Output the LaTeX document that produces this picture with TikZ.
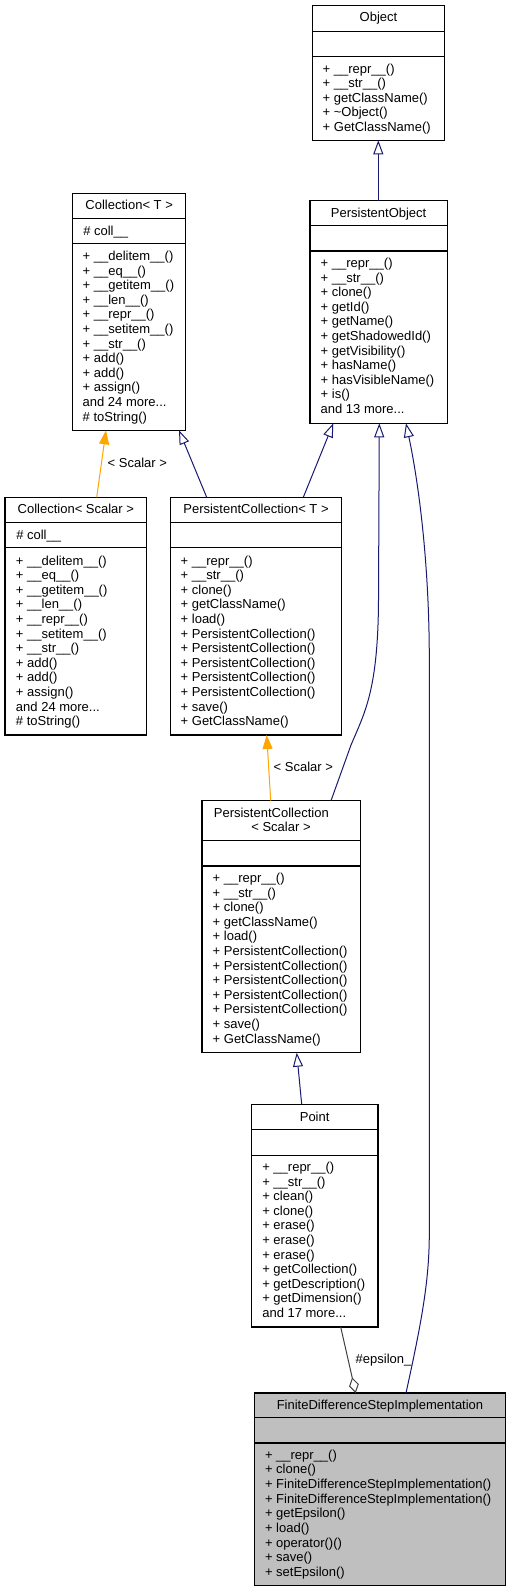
\documentclass[tikz,border=0pt]{standalone}
\usepackage{fontspec}
\setmainfont{Liberation Sans}
\usetikzlibrary{arrows.meta,calc}
\definecolor{navy}{HTML}{191970}
\definecolor{orng}{HTML}{FFA500}
\definecolor{dgray}{HTML}{404040}
\definecolor{fdgray}{HTML}{BFBFBF}
\newcommand{\tdots}{...}
\tikzset{
  clsnode/.style={draw=black, line width=1.1pt, rectangle, inner sep=0pt, outer sep=0pt},
  sepline/.style={draw=black, line width=1.1pt},
  txt/.style={inner sep=0pt, outer sep=0pt, font=\fontsize{13}{15}\selectfont},
  inh/.style={draw=navy, line width=1pt, -{Triangle[open, length=14pt, width=10pt, line width=1pt]}},
  tmpl/.style={draw=orng, line width=1pt, -{Triangle[length=14pt, width=10pt]}, orng},
  aggr/.style={draw=dgray, line width=1pt, -{Diamond[open, length=16pt, width=10pt, line width=1pt]}},
}
\newcommand{\clsbox}[8]{%
  \node[clsnode, fill=#8, minimum width={#4-#2}, minimum height={#5-#3}, anchor=north west] (#1) at (#2,#3) {};
  \draw[sepline] (#2,#6) -- (#4,#6);
  \draw[sepline] (#2,#7) -- (#4,#7);
}
\newcommand{\mlines}[5]{%
  \foreach \t [count=\i from 0] in {#5} {\node[txt, anchor=base west] (#1-\i) at (#2, {#3+\i*#4}) {\t};}
}
\begin{document}
\begin{tikzpicture}[x=1pt, y=-1pt]
\useasboundingbox (0,0) rectangle (511,1592);

% Object
\clsbox{obj}{312.7}{5.7}{444.3}{140.3}{31.3}{56.7}{white}
\node[txt, anchor=base] (obj-t) at (378.5,22) {Object};
\mlines{objm}{322.7}{73.3}{14.45}{+ \_\_repr\_\_(), + \_\_str\_\_(), + getClassName(), + \textasciitilde Object(), + GetClassName()}

% Collection< T >
\clsbox{colT}{72.7}{193.3}{185.7}{430.3}{218.7}{243.7}{white}
\node[txt, anchor=base] (colT-t) at (129.2,209.3) {Collection< T >};
\node[txt, anchor=base west] (colT-a) at (83.3,235.5) {\# coll\_\_};
\mlines{colTm}{82.7}{260.5}{14.6}{+ \_\_delitem\_\_(), + \_\_eq\_\_(), + \_\_getitem\_\_(), + \_\_len\_\_(), + \_\_repr\_\_(), + \_\_setitem\_\_(), + \_\_str\_\_(), + add(), + add(), + assign(), and 24 more\tdots, {\# toString()}}

% PersistentObject
\clsbox{po}{310}{200.7}{447.3}{423.3}{225.7}{251}{white}
\node[txt, anchor=base] (po-t) at (378.65,217.3) {PersistentObject};
\mlines{pom}{320.7}{267.5}{14.6}{+ \_\_repr\_\_(), + \_\_str\_\_(), + clone(), + getId(), + getName(), + getShadowedId(), + getVisibility(), + hasName(), + hasVisibleName(), + is(), and 13 more\tdots}

% Collection< Scalar >
\clsbox{colS}{5}{497.3}{146.7}{735}{522.3}{547.7}{white}
\node[txt, anchor=base] (colS-t) at (75.85,513.3) {Collection< Scalar >};
\node[txt, anchor=base west] (colS-a) at (16.3,539.3) {\# coll\_\_};
\mlines{colSm}{16}{565}{14.6}{+ \_\_delitem\_\_(), + \_\_eq\_\_(), + \_\_getitem\_\_(), + \_\_len\_\_(), + \_\_repr\_\_(), + \_\_setitem\_\_(), + \_\_str\_\_(), + add(), + add(), + assign(), and 24 more\tdots, {\# toString()}}

% PersistentCollection< T >
\clsbox{pcT}{170.7}{497.3}{341.3}{735}{522.3}{547.7}{white}
\node[txt, anchor=base] (pcT-t) at (256,513.3) {PersistentCollection< T >};
\mlines{pcTm}{180.7}{565}{14.6}{+ \_\_repr\_\_(), + \_\_str\_\_(), + clone(), + getClassName(), + load(), + PersistentCollection(), + PersistentCollection(), + PersistentCollection(), + PersistentCollection(), + PersistentCollection(), + save(), + GetClassName()}

% PersistentCollection< Scalar >
\clsbox{pcS}{202}{800.7}{360.7}{1052.7}{840.7}{866}{white}
\node[txt, anchor=base] (pcS-t1) at (271.3,817.7) {PersistentCollection};
\node[txt, anchor=base] (pcS-t2) at (281,831.7) {< Scalar >};
\mlines{pcSm}{212.7}{882.5}{14.6}{+ \_\_repr\_\_(), + \_\_str\_\_(), + clone(), + getClassName(), + load(), + PersistentCollection(), + PersistentCollection(), + PersistentCollection(), + PersistentCollection(), + PersistentCollection(), + save(), + GetClassName()}

% Point
\clsbox{pt}{251.3}{1104.3}{378}{1327}{1129.7}{1155.3}{white}
\node[txt, anchor=base] (pt-t) at (314.65,1121.7) {Point};
\mlines{ptm}{262.3}{1171.5}{14.6}{+ \_\_repr\_\_(), + \_\_str\_\_(), + clean(), + clone(), + erase(), + erase(), + erase(), + getCollection(), + getDescription(), + getDimension(), and 17 more\tdots}

% FiniteDifferenceStepImplementation
\clsbox{fd}{254.7}{1393}{505.3}{1585.7}{1417.3}{1443}{fdgray}
\node[txt, anchor=base] (fd-t) at (380,1409.3) {FiniteDifferenceStepImplementation};
\mlines{fdm}{265}{1459.2}{14.65}{+ \_\_repr\_\_(), + clone(), + FiniteDifferenceStepImplementation(), + FiniteDifferenceStepImplementation(), + getEpsilon(), + load(), + operator()(), + save(), + setEpsilon()}

% Edges
\draw[inh] ([xshift=68.3pt]po.north west) -- ([xshift=65.6pt]obj.south west);
\draw[tmpl] ([xshift=91.7pt]colS.north west) -- ([xshift=33.3pt]colT.south west);
\node[txt, anchor=base] (lab1) at (137.3,467.3) {< Scalar >};
\draw[inh] ([xshift=36pt]pcT.north west) -- ([xshift=106.3pt]colT.south west);
\draw[inh] ([xshift=132.6pt]pcT.north west) -- ([xshift=23.3pt]po.south west);
\draw[tmpl] ([xshift=68.7pt]pcS.north west) -- ([xshift=96pt]pcT.south west);
\node[txt, anchor=base] (lab2) at (303.3,771.5) {< Scalar >};
\draw[inh] ([xshift=129pt]pcS.north west) -- (351,745) .. controls (365,712) and (378,690) .. (378.5,600) -- ([xshift=69.3pt]po.south west);
\draw[inh] ([xshift=151.3pt]fd.north west) .. controls (422,1320) and (429.3,1280) .. (429.3,1233) -- (429.3,660) .. controls (429.3,560) and (418,480) .. ([xshift=96pt]po.south west);
\draw[inh] ([xshift=50.4pt]pt.north west) -- ([xshift=94.7pt]pcS.south west);
\draw[aggr] ([xshift=89.4pt]pt.south west) -- ([xshift=101pt]fd.north west);
\node[txt, anchor=base west] (lab3) at (355.7,1363.3) {\#epsilon\_};
\end{tikzpicture}
\end{document}
